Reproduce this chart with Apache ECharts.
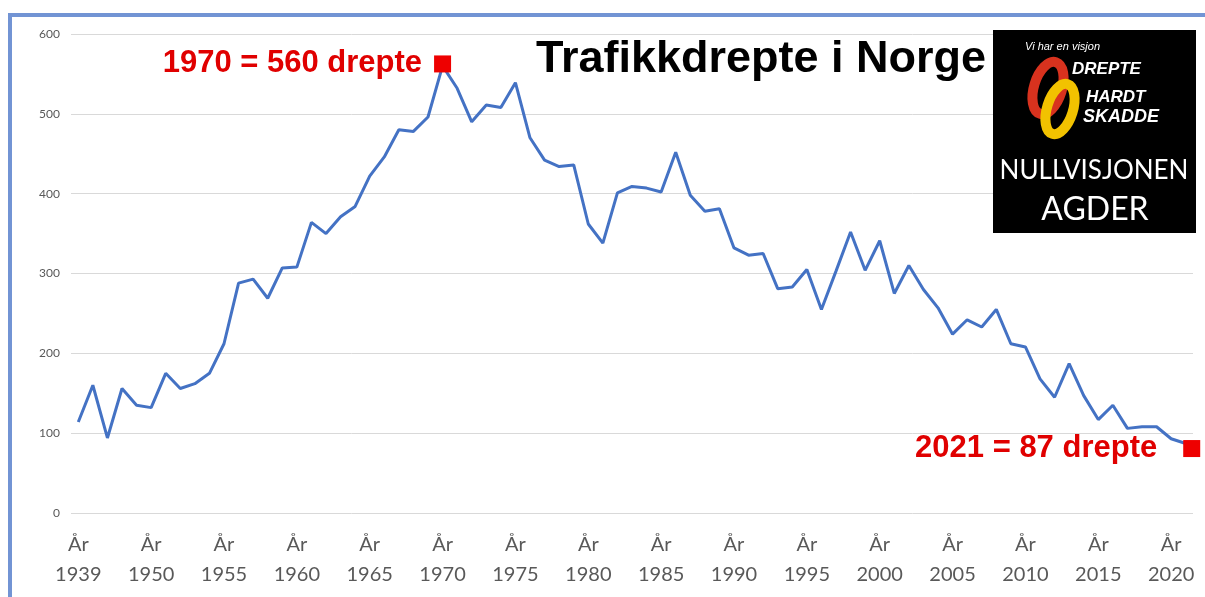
<!DOCTYPE html>
<html>
<head>
    <meta charset="utf-8">
    <title>Trafikkdrepte i Norge</title>
    <style>
        html, body { margin: 0; padding: 0; background: #fff; }
    </style>
</head>
<body>
    <div id="main" style="width: 1205px;height:597px;"></div>
    <script src="https://cdn.jsdelivr.net/npm/echarts@6/dist/echarts.min.js"></script>
    <script type="text/javascript">
        var years = [1939, 1946, 1947, 1948, 1949, 1950, 1951, 1952, 1953, 1954,
            1955, 1956, 1957, 1958, 1959, 1960, 1961, 1962, 1963, 1964,
            1965, 1966, 1967, 1968, 1969, 1970, 1971, 1972, 1973, 1974,
            1975, 1976, 1977, 1978, 1979, 1980, 1981, 1982, 1983, 1984,
            1985, 1986, 1987, 1988, 1989, 1990, 1991, 1992, 1993, 1994,
            1995, 1996, 1997, 1998, 1999, 2000, 2001, 2002, 2003, 2004,
            2005, 2006, 2007, 2008, 2009, 2010, 2011, 2012, 2013, 2014,
            2015, 2016, 2017, 2018, 2019, 2020, 2021];
        var deaths = [114, 160, 94, 156, 135, 132, 175, 156, 162, 175,
            212, 288, 293, 269, 307, 308, 364, 350, 371, 384,
            422, 446, 480, 478, 496, 560, 532, 490, 511, 508,
            539, 470, 442, 434, 436, 362, 338, 401, 409, 407,
            402, 452, 398, 378, 381, 332, 323, 325, 281, 283,
            305, 255, 303, 352, 304, 341, 275, 310, 280, 257,
            224, 242, 233, 255, 212, 208, 168, 145, 187, 147,
            117, 135, 106, 108, 108, 93, 87];
        var tickPrefix = 'År';
        var peakIdx = years.indexOf(1970);
        var lastIdx = years.length - 1;

        var myChart = echarts.init(document.getElementById('main'));
        var option = {
            backgroundColor: '#fff',
            animation: false,
            grid: { left: 71, right: 12, top: 34, bottom: 84 },
            xAxis: {
                type: 'category',
                data: years.map(String),
                boundaryGap: true,
                axisLine: { show: false },
                axisTick: { show: false },
                axisLabel: {
                    interval: 4,
                    margin: 17,
                    color: '#595959',
                    fontFamily: 'Lato',
                    fontSize: 20,
                    lineHeight: 30,
                    formatter: function (v) { return tickPrefix + '\n' + v; }
                }
            },
            yAxis: {
                type: 'value',
                min: 0,
                max: 600,
                interval: 100,
                axisLine: { show: false },
                axisTick: { show: false },
                axisLabel: { color: '#595959', fontFamily: 'Lato', fontSize: 12, margin: 11 },
                splitLine: { lineStyle: { color: '#d9d9d9', width: 1 } }
            },
            series: [{
                type: 'line',
                data: deaths,
                symbol: 'none',
                lineStyle: { color: '#4472C4', width: 3 },
                markPoint: {
                    symbol: 'rect',
                    symbolSize: 17,
                    itemStyle: { color: '#ee0000' },
                    label: {
                        show: true,
                        position: 'left',
                        distance: 12,
                        color: '#e00000',
                        fontFamily: 'Liberation Sans',
                        fontWeight: 'bold',
                        fontSize: 31
                    },
                    data: [
                        {
                            coord: [peakIdx, deaths[peakIdx]],
                            symbolOffset: [0, -2],
                            label: { formatter: years[peakIdx] + ' = ' + deaths[peakIdx] + ' drepte' }
                        },
                        {
                            coord: [lastIdx, deaths[lastIdx]],
                            symbolOffset: [6, 5],
                            label: { formatter: years[lastIdx] + ' = ' + deaths[lastIdx] + ' drepte', distance: 26 }
                        }
                    ]
                }
            }],
            graphic: [
                // blå ramme
                { type: 'rect', shape: { x: 10, y: 15, width: 1210, height: 600 }, style: { fill: 'none', stroke: '#7294d4', lineWidth: 4 }, z: 0 },
                // tittel
                { type: 'text', left: 536, top: 37, style: { text: 'Trafikkdrepte i Norge', fill: '#000', font: 'bold 45px "Liberation Sans"' }, z: 10 },
                // logo
                { type: 'rect', shape: { x: 993, y: 30, width: 203, height: 203 }, style: { fill: '#000' }, z: 10 },
                { type: 'text', x: 1025, y: 41, style: { text: 'Vi har en visjon', fill: '#fff', font: 'italic 11px "Liberation Sans"' }, z: 11 },
                { type: 'ellipse', shape: { cx: 1048, cy: 88, rx: 14, ry: 27 }, rotation: -0.3, originX: 1048, originY: 88,
                  style: { fill: 'none', stroke: '#d8321e', lineWidth: 10 }, z: 11 },
                { type: 'ellipse', shape: { cx: 1060, cy: 109, rx: 13, ry: 26 }, rotation: -0.3, originX: 1060, originY: 109,
                  style: { fill: 'none', stroke: '#f2c200', lineWidth: 10 }, z: 12 },
                { type: 'text', x: 1072, y: 61, style: { text: 'DREPTE', fill: '#fff', font: 'italic bold 17px "Liberation Sans"' }, z: 13 },
                { type: 'text', x: 1086, y: 89, style: { text: 'HARDT', fill: '#fff', font: 'italic bold 17px "Liberation Sans"' }, z: 13 },
                { type: 'text', x: 1083, y: 108, style: { text: 'SKADDE', fill: '#fff', font: 'italic bold 18px "Liberation Sans"' }, z: 13 },
                { type: 'text', x: 1094, y: 158, style: { text: 'NULLVISJONEN', fill: '#fff', font: '26px Lato', align: 'center' }, z: 13 },
                { type: 'text', x: 1095, y: 194, style: { text: 'AGDER', fill: '#fff', font: '32px Lato', align: 'center' }, z: 13 }
            ]
        };
        myChart.setOption(option);
    </script>
</body>
</html>
